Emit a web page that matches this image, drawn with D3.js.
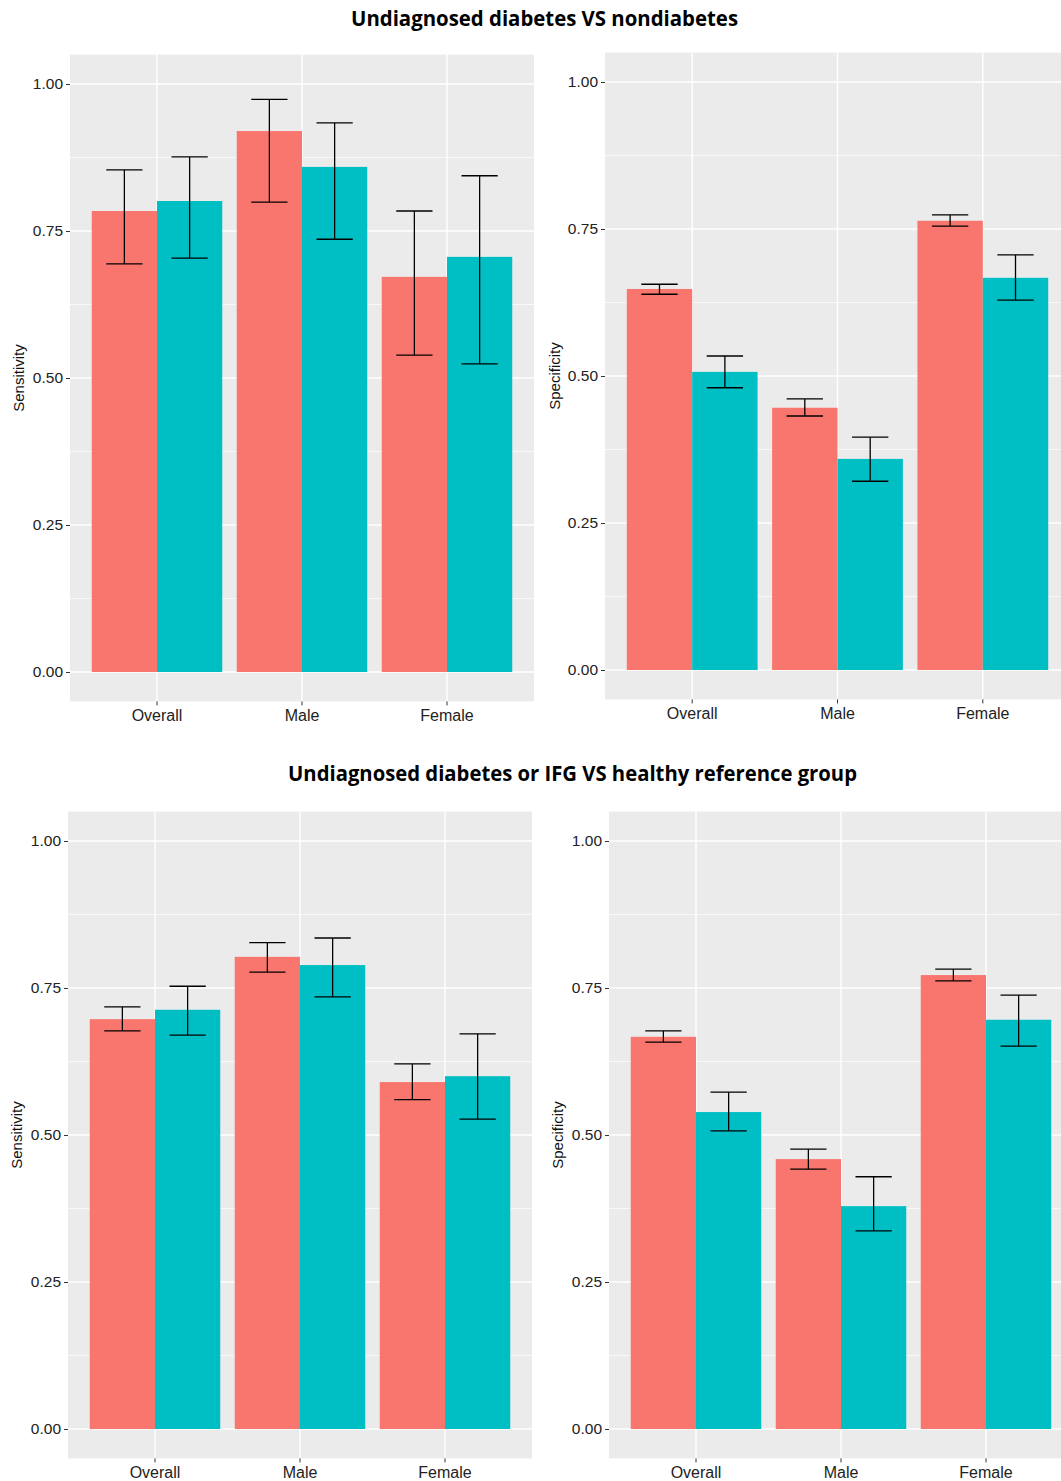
<!DOCTYPE html>
<html>
<head>
<meta charset="utf-8">
<script src="https://cdn.jsdelivr.net/npm/d3@7"></script>
<style>
  html, body { margin: 0; padding: 0; background: #fff; }
  svg { display: block; }
</style>
</head>
<body>
<svg id="chart" width="1061" height="1481"></svg>
<script>
// ---------------- DATA ----------------
const categories = ["Overall", "Male", "Female"];
const groups = ["A", "B"];
const yTicks = [0, 0.25, 0.5, 0.75, 1.0];
const yTickLabels = ["0.00", "0.25", "0.50", "0.75", "1.00"];
const titles = ["Undiagnosed diabetes VS nondiabetes", "Undiagnosed diabetes or IFG VS healthy reference group"];

// Panel 1: Sensitivity, undiagnosed diabetes vs nondiabetes
const sens1Red   = [0.784, 0.920, 0.672];
const sens1RedLo = [0.694, 0.799, 0.539];
const sens1RedHi = [0.854, 0.974, 0.784];
const sens1Teal   = [0.801, 0.859, 0.706];
const sens1TealLo = [0.704, 0.736, 0.524];
const sens1TealHi = [0.876, 0.934, 0.844];

// Panel 2: Specificity, undiagnosed diabetes vs nondiabetes
const spec1Red   = [0.648, 0.446, 0.764];
const spec1RedLo = [0.639, 0.432, 0.755];
const spec1RedHi = [0.656, 0.461, 0.774];
const spec1Teal   = [0.507, 0.359, 0.667];
const spec1TealLo = [0.480, 0.321, 0.629];
const spec1TealHi = [0.534, 0.396, 0.706];

// Panel 3: Sensitivity, undiagnosed diabetes or IFG vs healthy reference
const sens2Red   = [0.697, 0.803, 0.590];
const sens2RedLo = [0.677, 0.777, 0.560];
const sens2RedHi = [0.718, 0.827, 0.621];
const sens2Teal   = [0.713, 0.789, 0.600];
const sens2TealLo = [0.670, 0.735, 0.527];
const sens2TealHi = [0.753, 0.835, 0.672];

// Panel 4: Specificity, undiagnosed diabetes or IFG vs healthy reference
const spec2Red   = [0.667, 0.459, 0.772];
const spec2RedLo = [0.658, 0.442, 0.762];
const spec2RedHi = [0.677, 0.476, 0.782];
const spec2Teal   = [0.539, 0.379, 0.696];
const spec2TealLo = [0.507, 0.337, 0.651];
const spec2TealHi = [0.573, 0.429, 0.738];

// ---------------- STYLE / LAYOUT ----------------
const colors = { A: "#F8766D", B: "#00BFC4" };
const panelBg = "#EBEBEB";

function buildRows(red, redLo, redHi, teal, tealLo, tealHi) {
  const rows = [];
  categories.forEach((c, i) => {
    rows.push({ cat: c, grp: "A", v: red[i], lo: redLo[i], hi: redHi[i] });
    rows.push({ cat: c, grp: "B", v: teal[i], lo: tealLo[i], hi: tealHi[i] });
  });
  return rows;
}

const panels = [
  { label: "Sensitivity", rows: buildRows(sens1Red, sens1RedLo, sens1RedHi, sens1Teal, sens1TealLo, sens1TealHi),
    left: 70, right: 534, y0: 672, y1: 84, axisTitleX: 24 },
  { label: "Specificity", rows: buildRows(spec1Red, spec1RedLo, spec1RedHi, spec1Teal, spec1TealLo, spec1TealHi),
    left: 605, right: 1070, y0: 670, y1: 82, axisTitleX: 560 },
  { label: "Sensitivity", rows: buildRows(sens2Red, sens2RedLo, sens2RedHi, sens2Teal, sens2TealLo, sens2TealHi),
    left: 68, right: 532, y0: 1429, y1: 841, axisTitleX: 22 },
  { label: "Specificity", rows: buildRows(spec2Red, spec2RedLo, spec2RedHi, spec2Teal, spec2TealLo, spec2TealHi),
    left: 609, right: 1073, y0: 1429, y1: 841, axisTitleX: 563 }
];

const svg = d3.select("#chart");
const W = 1061;

// Titles
const titleSpec = [
  { text: titles[0], x: 544.5, y: 26, len: 387 },
  { text: titles[1], x: 572.5, y: 781, len: 569 }
];
svg.selectAll("text.title").data(titleSpec).enter().append("text")
  .attr("class", "title")
  .attr("x", d => d.x).attr("y", d => d.y)
  .attr("text-anchor", "middle")
  .attr("textLength", d => d.len)
  .attr("lengthAdjust", "spacingAndGlyphs")
  .style("font-family", "'Open Sans', 'DejaVu Sans', sans-serif")
  .style("font-weight", "700")
  .style("font-size", "21px")
  .style("fill", "#000")
  .text(d => d.text);

const defs = svg.append("defs");
defs.append("clipPath").attr("id", "pageclip")
  .append("rect").attr("x", 0).attr("y", 0).attr("width", W).attr("height", 1481);

panels.forEach((p, pi) => {
  const y = d3.scaleLinear().domain([0, 1]).range([p.y0, p.y1]);
  const top = y(1.05), bottom = y(-0.05);
  const x = d3.scaleBand().domain(categories).range([p.left, p.right])
    .paddingInner(0).paddingOuter(0.1);
  const step = x.step();
  const xg = d3.scaleBand().domain(groups).range([0, step * 0.9]);
  const cx = c => x(c) + x.bandwidth() / 2;

  const g = svg.append("g").attr("clip-path", "url(#pageclip)");

  // Background
  g.append("rect")
    .attr("x", p.left).attr("y", top)
    .attr("width", p.right - p.left).attr("height", bottom - top)
    .attr("fill", panelBg);

  // Minor grid
  const minor = [0.125, 0.375, 0.625, 0.875];
  g.selectAll("line.minor").data(minor).enter().append("line")
    .attr("x1", p.left).attr("x2", p.right)
    .attr("y1", d => y(d)).attr("y2", d => y(d))
    .attr("stroke", "#fff").attr("stroke-width", 0.7);

  // Major grid horizontal
  g.selectAll("line.major").data(yTicks).enter().append("line")
    .attr("x1", p.left).attr("x2", p.right)
    .attr("y1", d => y(d)).attr("y2", d => y(d))
    .attr("stroke", "#fff").attr("stroke-width", 1.4);

  // Major grid vertical
  g.selectAll("line.vmajor").data(categories).enter().append("line")
    .attr("x1", d => cx(d)).attr("x2", d => cx(d))
    .attr("y1", top).attr("y2", bottom)
    .attr("stroke", "#fff").attr("stroke-width", 1.4);

  // Bars
  g.selectAll("rect.bar").data(p.rows).enter().append("rect")
    .attr("x", d => cx(d.cat) - step * 0.45 + xg(d.grp))
    .attr("width", xg.bandwidth())
    .attr("y", d => y(d.v))
    .attr("height", d => y(0) - y(d.v))
    .attr("fill", d => colors[d.grp]);

  // Error bars
  const capW = step * 0.25;
  const eb = g.selectAll("g.eb").data(p.rows).enter().append("g")
    .attr("transform", d => `translate(${cx(d.cat) - step * 0.45 + xg(d.grp) + xg.bandwidth() / 2},0)`);
  eb.append("line").attr("x1", 0).attr("x2", 0)
    .attr("y1", d => y(d.lo)).attr("y2", d => y(d.hi))
    .attr("stroke", "#000").attr("stroke-width", 1.3);
  eb.append("line").attr("x1", -capW / 2).attr("x2", capW / 2)
    .attr("y1", d => y(d.lo)).attr("y2", d => y(d.lo))
    .attr("stroke", "#000").attr("stroke-width", 1.3);
  eb.append("line").attr("x1", -capW / 2).attr("x2", capW / 2)
    .attr("y1", d => y(d.hi)).attr("y2", d => y(d.hi))
    .attr("stroke", "#000").attr("stroke-width", 1.3);

  // Y axis
  const yAxis = d3.axisLeft(y).tickValues(yTicks)
    .tickFormat((d, i) => yTickLabels[i]).tickSize(4).tickPadding(3);
  const ya = g.append("g").attr("transform", `translate(${p.left},0)`).call(yAxis);
  ya.select(".domain").remove();
  ya.selectAll(".tick line").attr("stroke", "#333");
  ya.selectAll(".tick text")
    .style("font-family", "'Liberation Sans', Arial, sans-serif")
    .style("font-size", "15.5px").style("fill", "#222");

  // X axis
  const xAxis = d3.axisBottom(x).tickSize(4).tickPadding(4);
  const xa = g.append("g").attr("transform", `translate(0,${bottom})`).call(xAxis);
  xa.select(".domain").remove();
  xa.selectAll(".tick line").attr("stroke", "#333");
  xa.selectAll(".tick text")
    .style("font-family", "'Liberation Sans', Arial, sans-serif")
    .style("font-size", "16px").style("fill", "#222");

  // Axis title
  g.append("text")
    .attr("transform", `translate(${p.axisTitleX},${(p.y0 + p.y1) / 2}) rotate(-90)`)
    .attr("text-anchor", "middle")
    .style("font-family", "'Liberation Sans', Arial, sans-serif")
    .style("font-size", "15px").style("fill", "#111")
    .text(p.label);
});
</script>
</body>
</html>
